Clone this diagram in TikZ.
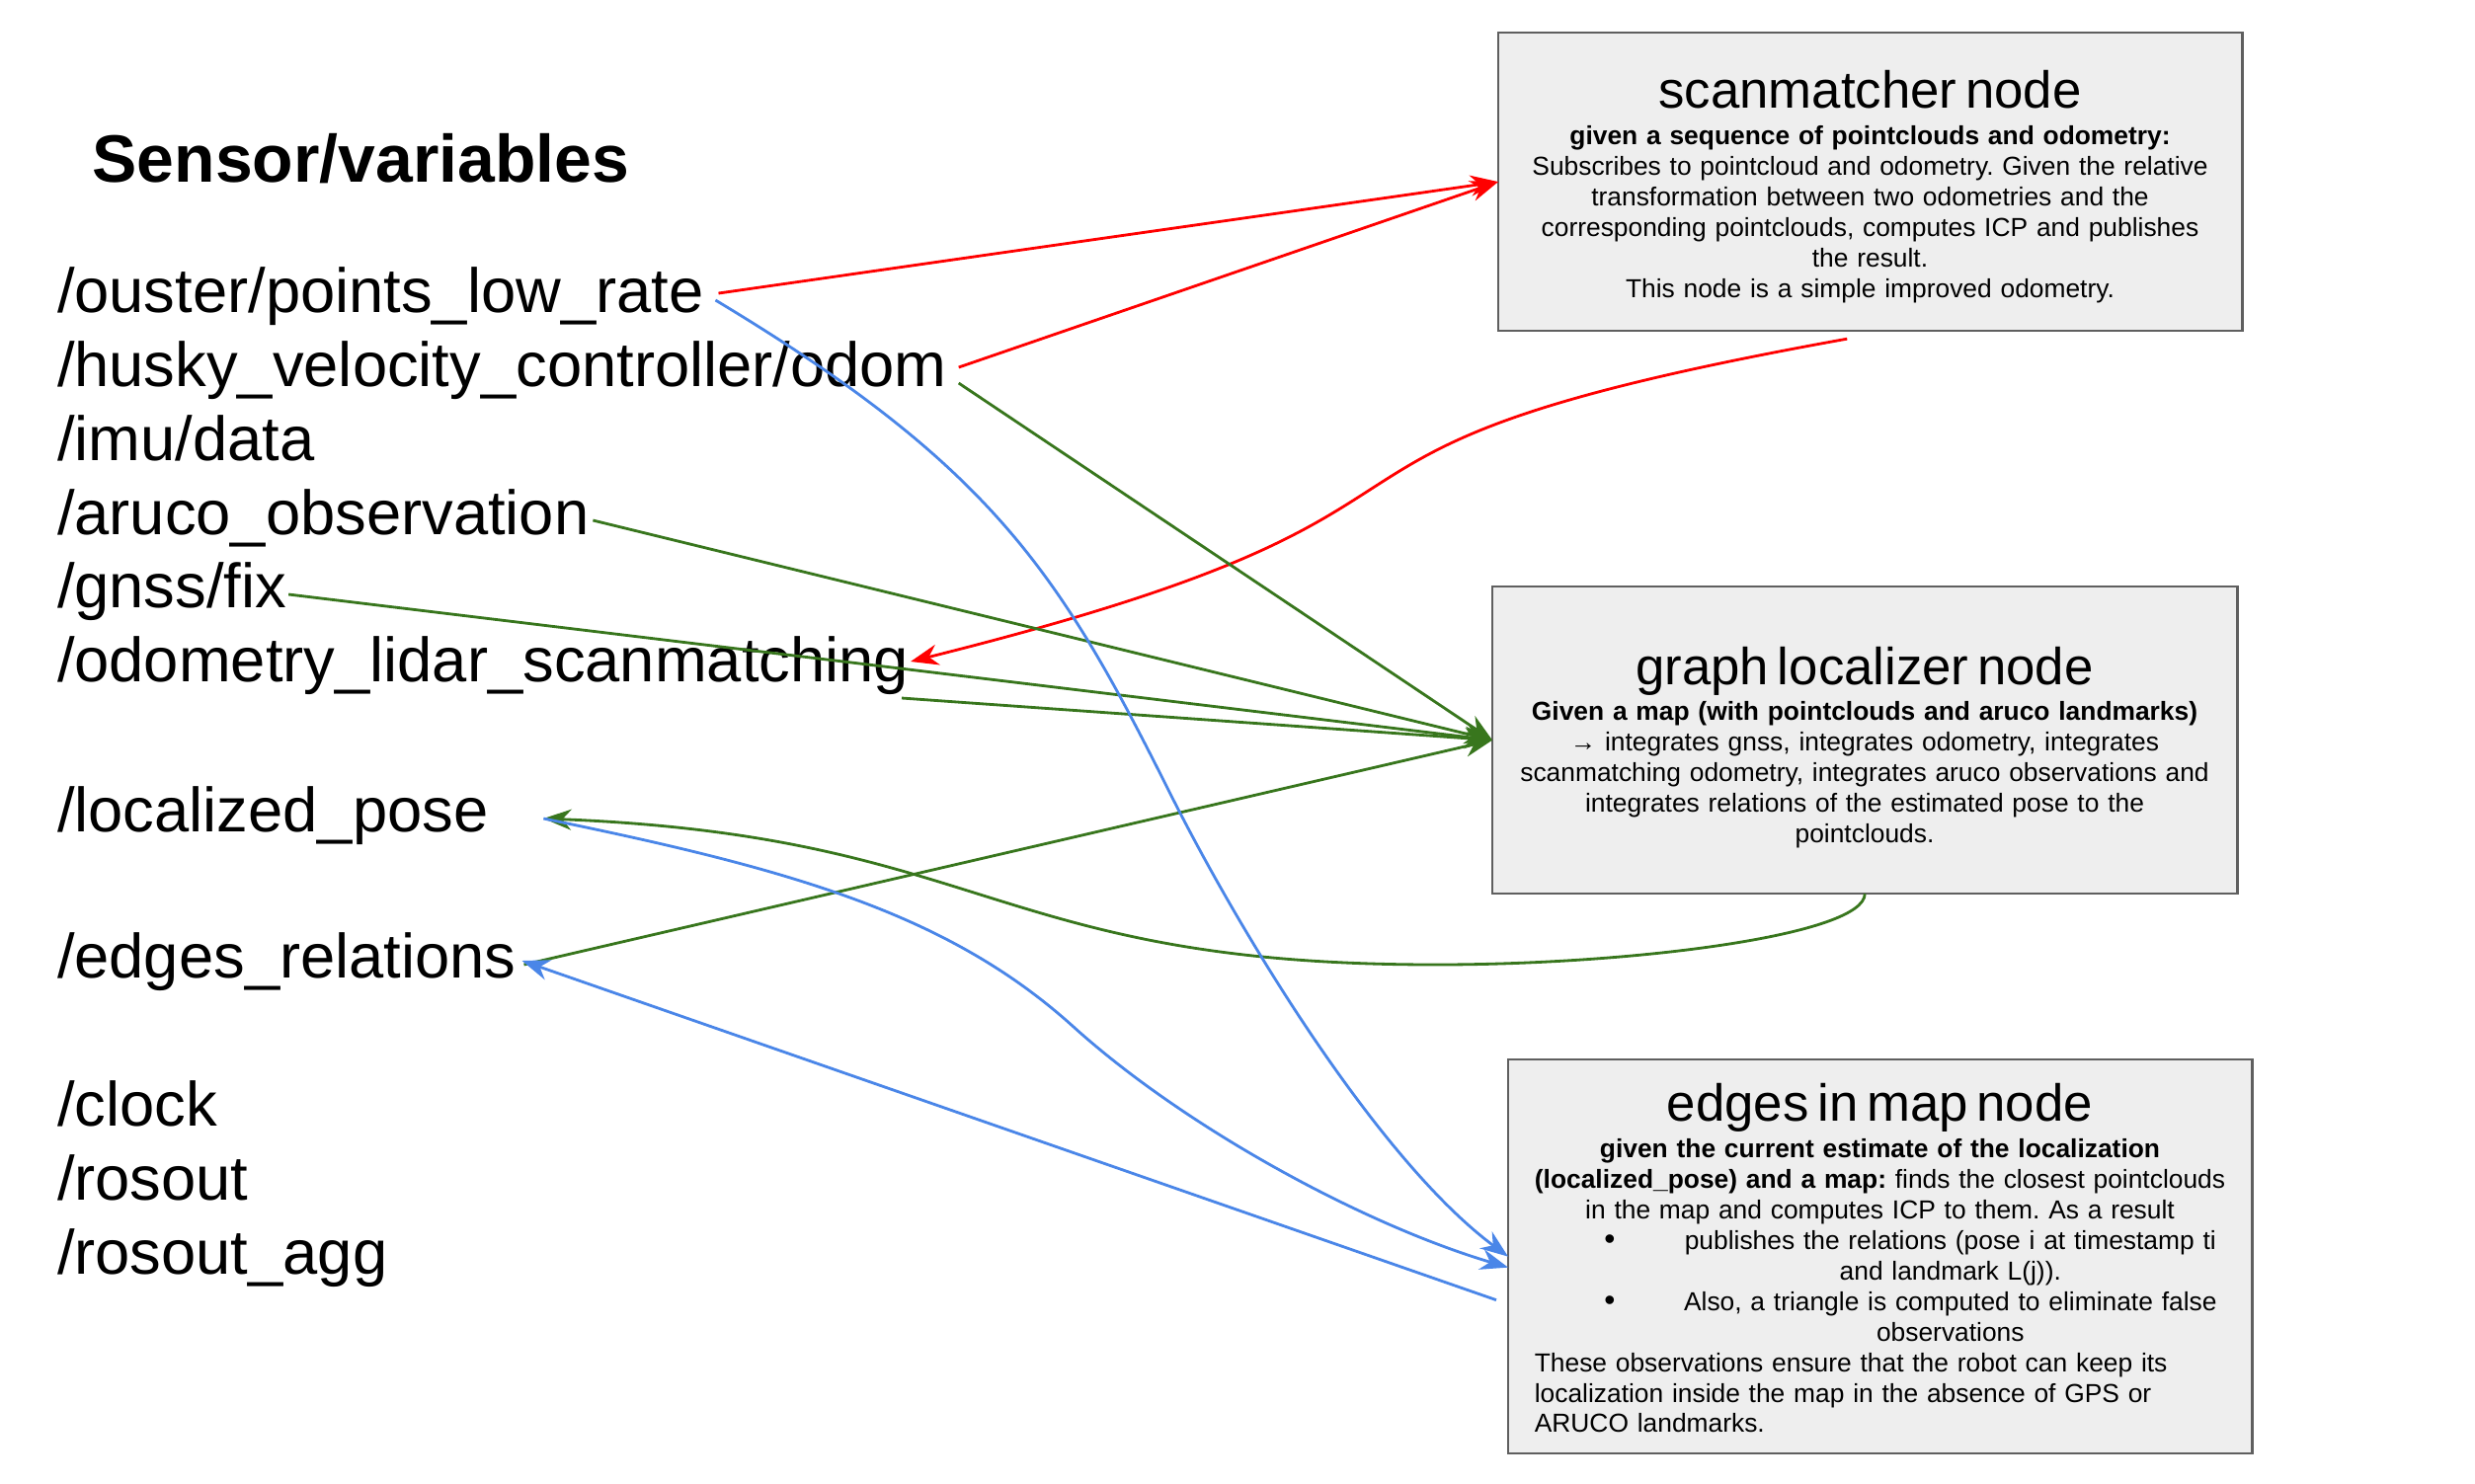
\documentclass[tikz,border=0pt]{standalone}
\usepackage{fontspec}
\setmainfont{Liberation Sans}
\usetikzlibrary{arrows.meta,calc}
\definecolor{linered}{HTML}{FF0000}
\definecolor{linegreen}{HTML}{38761D}
\definecolor{lineblue}{HTML}{4A86E8}
\definecolor{boxfill}{HTML}{EEEEEE}
\definecolor{boxgray}{HTML}{5F5F5F}
\frenchspacing
\newcommand\boxtitlefont{\fontsize{15}{18}\selectfont}
\newcommand\bulletfirst[1]{\par\noindent\hspace*{0.76cm}\makebox[0pt][l]{\fontsize{9}{8.8}\selectfont\textbullet}\hspace*{0.665cm}\makebox[5.675cm][c]{#1}\par}
\newcommand\bulletcont[1]{\par\noindent\hspace*{1.425cm}\makebox[5.675cm][c]{#1}\par}
\begin{document}
\begin{tikzpicture}[x=0.01cm,y=-0.01cm,
  box/.style={draw=boxgray, fill=boxfill, line width=0.7pt, inner sep=0pt, outer sep=0pt, anchor=north west},
  boxtxt/.style={inner sep=0pt, outer sep=0pt, anchor=north, text width=7.2cm, align=center, font=\fontsize{7.5}{8.8}\selectfont},
  topic/.style={font=\fontsize{18}{21}\selectfont, anchor=base west, inner sep=0pt, outer sep=0pt},
  conn/.style={line width=0.8pt, -{Stealth[length=8pt,width=6pt,inset=2.6pt]}},
  redc/.style={conn, draw=linered},
  greenc/.style={conn, draw=linegreen},
  bluec/.style={conn, draw=lineblue}]
\useasboundingbox (0,0) rectangle (2506,1502);

% heading and topic list
\node[anchor=base west, inner sep=0pt, font=\fontsize{19.3}{22}\selectfont\bfseries] (heading) at (93,184) {Sensor/variables};
\node[topic] (ouster) at (58,316) {/ouster/points\_low\_rate};
\node[topic] (husky) at (58,391) {/husky\_velocity\_controller/odom};
\node[topic] (imu) at (58,466) {/imu/data};
\node[topic] (aruco) at (58,541) {/aruco\_observation};
\node[topic] (gnss) at (58,615) {/gnss/fix};
\node[topic] (odomlidar) at (58,690) {/odometry\_lidar\_scanmatching};
\node[topic] (locpose) at (58,842) {/localized\_pose};
\node[topic] (edgesrel) at (58,990) {/edges\_relations};
\node[topic] (clock) at (58,1140) {/clock};
\node[topic] (rosout) at (58,1215) {/rosout};
\node[topic] (rosoutagg) at (58,1290) {/rosout\_agg};

% boxes
\node[box, minimum width=7.53cm, minimum height=3.02cm] (scan) at (1517,33) {};
\node[box, minimum width=7.54cm, minimum height=3.11cm] (graph) at (1511,594) {};
\node[box, minimum width=7.53cm, minimum height=3.99cm] (edges) at (1527,1073) {};

\node[boxtxt] (scantxt) at (1893.5,71.3) {{\boxtitlefont scanmatcher node}\\[1.8pt]
\textbf{given a sequence of pointclouds and odometry:}\\
Subscribes to pointcloud and odometry. Given the relative\\
transformation between two odometries and the\\
corresponding pointclouds, computes ICP and publishes\\
the result.\\
This node is a simple improved odometry.};

\node[boxtxt] (graphtxt) at (1888,655) {{\boxtitlefont graph localizer node}\\[1.5pt]
\textbf{Given a map (with pointclouds and aruco landmarks)}\\
→ integrates gnss, integrates odometry, integrates\\
scanmatching odometry, integrates aruco observations and\\
integrates relations of the estimated pose to the\\
pointclouds.};

\node[boxtxt, text width=7.1cm] (edgestxt) at (1903.5,1097.3) {{\boxtitlefont edges in map node}\\[1.7pt]
\textbf{given the current estimate of the localization}\\
\textbf{(localized\_pose) and a map:} finds the closest pointclouds\\
in the map and computes ICP to them. As a result\par
\bulletfirst{publishes the relations (pose i at timestamp ti}
\bulletcont{and landmark L(j)).}
\bulletfirst{Also, a triangle is computed to eliminate false}
\bulletcont{observations}
{\raggedright\leftskip=0.055cm These observations ensure that the robot can keep its\\
localization inside the map in the absence of GPS or\\
ARUCO landmarks.\par}};

% red connectors
\draw[redc] ($(ouster.base east)+(15,-19)$) -- (scan.west);
\draw[redc] ($(husky.base east)+(12,-19)$) -- (scan.west);
\draw[redc] ($(scan.south)+(-23.5,8)$) .. controls (1220,460) and (1571,508) .. ($(odomlidar.base east)+(2,-20)$);

% green connectors
\draw[greenc] ($(husky.base east)+(12,-3)$) -- (graph.west);
\draw[greenc] ($(aruco.base east)+(4,-14)$) -- (graph.west);
\draw[greenc] ($(gnss.base east)+(2,-13)$) -- (graph.west);
\draw[greenc] ($(odomlidar.base east)+(-7,17)$) -- (graph.west);
\draw[greenc] ($(edgesrel.base east)+(8,-13)$) -- (graph.west);
\draw[greenc] (graph.south) .. controls (1888,947) and (1654,977) .. (1454,977)
  .. controls (1004,977) and (1001,847) .. ($(locpose.base east)+(56,-13)$);

% blue connectors
\draw[bluec] ($(ouster.base east)+(12,-12)$) .. controls (1004,472) and (1073,580) .. (1183,800)
  .. controls (1258,950) and (1397,1176) .. (edges.west);
\draw[bluec] ($(locpose.base east)+(56,-13)$) .. controls (800,880) and (960,925) .. (1087,1040)
  .. controls (1200,1142) and (1380,1240) .. ($(edges.west)+(0,11)$);
\draw[bluec] ($(edges.west)+(-12,44)$) -- ($(edgesrel.base east)+(6,-17)$);
\end{tikzpicture}
\end{document}
